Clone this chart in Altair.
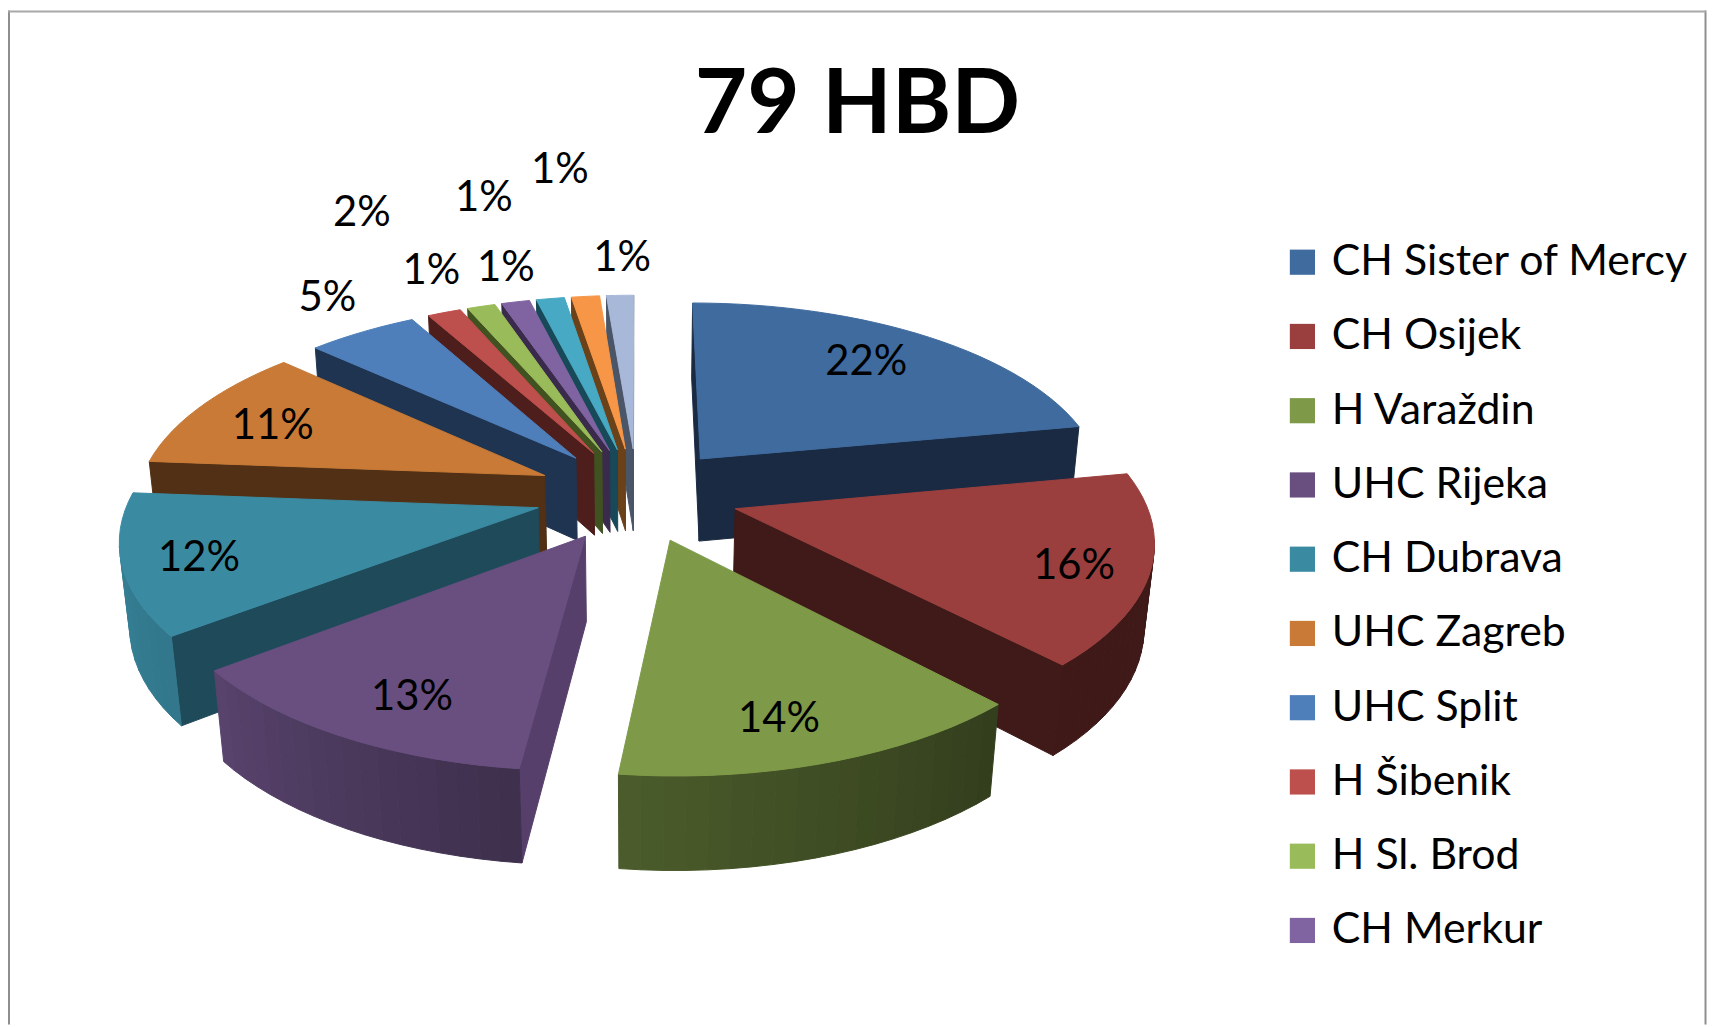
import math
import altair as alt

# ---- data ----
NAMES = ["CH Sister of Mercy", "CH Osijek", "H Varaždin", "UHC Rijeka", "CH Dubrava",
         "UHC Zagreb", "UHC Split", "H Šibenik", "H Sl. Brod", "CH Merkur",
         "Other 11", "Other 12", "Other 13"]
SHARES = [22, 16, 13.85, 12.65, 11.75, 10.65, 5.1, 1.55, 1.3, 1.3, 1.3, 1.3, 1.25]
LEGEND_COUNT = 10
TITLE = "79 HBD"

# ---- style ----
TOP_COLORS = ["#3f6b9e", "#9a3f3d", "#7e9a48", "#684f80", "#3a8ba2", "#c87a36", "#4e7fbb",
              "#bd4f4c", "#9abb59", "#8064a2", "#47a9c3", "#f79646", "#a8b8d8"]
RADIAL_COLORS = ["#1a2a42", "#3f1a18", "#33401c", "#573f6b", "#1f4a5a", "#513015", "#1f3450",
                 "#4e1e1c", "#3f5220", "#3a2b4c", "#174958", "#6b4119", "#4a5568"]
LABEL_T = [1.014, 1.076, 1.059, 1.046, 1.072, 1.021, 1.531, 2.105, 1.570, 2.109, 1.522, 2.330, 1.550]
LABEL_ANGLE = [38.1, 109.1, 163.7, 207.2, 253.0, 292.6, 324.3, 335.9, 337.2, 346.7, 345.2, 353.8, 358.35]

# ---- camera of the tilted, exploded pie ----
CX, CY, F, G, D, H, DROP, EXPLODE = 640.0, 494.0, 2870.0, 1319.0, 7.0, 600.0, 0.14, 0.25


def top(X, Y):
    return [CX + F * X / (D - Y), CY + G * Y / (D - Y)]


def bottom(X, Y):
    dd = D - Y + DROP
    return [CX + F * X / dd, CY + (G * Y + H) / dd]


def polar(t, deg):
    a = math.radians(deg)
    return t * math.sin(a), -t * math.cos(a)


def shade(hex_color, k):
    r, g, b = (int(hex_color[i:i + 2], 16) for i in (1, 3, 5))
    return "#%02x%02x%02x" % (round(r * k), round(g * k), round(b * k))


def wall_factor(deg):
    stops = [(0, .40), (137, .40), (187, .60), (234, .86), (277, .95), (360, .95)]
    for (a0, k0), (a1, k1) in zip(stops, stops[1:]):
        if a0 <= deg <= a1:
            return k0 + (k1 - k0) * (deg - a0) / (a1 - a0)
    return .4


def faces_viewer(p, q, m):
    ex, ey = q[0] - p[0], q[1] - p[1]
    return (ex * (m[1] - p[1]) - ey * (m[0] - p[0])) * ex < 0


features, colors = [], {}


def add(points, key, color):
    colors[key] = color
    ring = [[round(a, 2), round(b, 2)] for a, b in points]
    ring.append(ring[0])
    features.append({"type": "Feature", "properties": {"key": key},
                     "geometry": {"type": "Polygon", "coordinates": [ring]}})


slices, start = [], 0.0
for i, share in enumerate(SHARES):
    end = start + share * 3.6
    slices.append((i, start, end, (start + end) / 2))
    start = end

for i, a0, a1, mid in sorted(slices, key=lambda s: polar(EXPLODE + .5, s[3])[1]):
    ox, oy = polar(EXPLODE, mid)
    steps = max(3, int((a1 - a0) / 2.5))
    angles = [a0 + (a1 - a0) * k / steps for k in range(steps + 1)]
    rim = [(ox + polar(1, a)[0], oy + polar(1, a)[1]) for a in angles]
    apex_t = top(ox, oy)
    rim_t = [top(*w) for w in rim]
    n = len(rim_t) + 1
    centre = [(apex_t[0] + sum(p[0] for p in rim_t)) / n, (apex_t[1] + sum(p[1] for p in rim_t)) / n]
    for w, p in ((rim[0], rim_t[0]), (rim[-1], rim_t[-1])):
        if faces_viewer(apex_t, p, centre):
            add([apex_t, p, bottom(*w), bottom(ox, oy)], RADIAL_COLORS[i], RADIAL_COLORS[i])
    for k in range(steps):
        if faces_viewer(rim_t[k], rim_t[k + 1], centre):
            c = shade(TOP_COLORS[i], wall_factor((angles[k] + angles[k + 1]) / 2))
            add([rim_t[k], rim_t[k + 1], bottom(*rim[k + 1]), bottom(*rim[k])], c, c)
    add([apex_t] + rim_t, NAMES[i], TOP_COLORS[i])

labels = []
for i, s in enumerate(SHARES):
    px, py = top(*polar(LABEL_T[i], LABEL_ANGLE[i]))
    labels.append({"lon": px, "lat": py, "label": f"{round(s)}%"})

domain = list(colors)
rng = [colors[k] for k in domain]
PROJ = dict(type="identity", scale=1, translate=[-8, -8])

shapes = alt.Chart(alt.Data(values=features)).mark_geoshape(strokeWidth=1).encode(
    color=alt.Color("properties.key:N", scale=alt.Scale(domain=domain, range=rng),
                    legend=alt.Legend(values=NAMES[:LEGEND_COUNT], title=None, orient="none",
                                      legendX=1279, legendY=231.5, symbolType="square", symbolSize=640,
                                      symbolStrokeWidth=0, labelFont="Lato", labelFontSize=43,
                                      labelColor="black", labelOffset=8, rowPadding=30.6,
                                      padding=0, labelLimit=500)),
    stroke=alt.Stroke("properties.key:N", scale=alt.Scale(domain=domain, range=rng), legend=None),
).project(**PROJ)

texts = alt.Chart(alt.Data(values=labels)).mark_text(font="Lato", fontSize=42, color="black", dy=2).encode(
    longitude="lon:Q", latitude="lat:Q", text="label:N"
).project(**PROJ)

FRAME = "#8e8e8e"
left = alt.Chart(alt.Data(values=[{"a": 0}])).mark_rule(color=FRAME, strokeWidth=2).encode(
    x=alt.value(1), y=alt.value(0), y2=alt.value(1019))
right = alt.Chart(alt.Data(values=[{"a": 0}])).mark_rule(color=FRAME, strokeWidth=2).encode(
    x=alt.value(1705.5), y=alt.value(0), y2=alt.value(1019))
upper = alt.Chart(alt.Data(values=[{"a": 0}])).mark_rule(color="#a8a8a8", strokeWidth=2).encode(
    y=alt.value(1), x=alt.value(0), x2=alt.value(1706))

chart = alt.layer(left, right, upper, shapes, texts).properties(
    width=1709, height=1019, padding=0, autosize=alt.AutoSizeParams(type="none"),
    title=alt.TitleParams(text=TITLE, font="Lato", fontSize=91, fontWeight="bold", color="black",
                          anchor="middle", frame="group", offset=0, dx=-1, dy=215, baseline="alphabetic"),
).configure_view(stroke=None)

chart.save("out.html", embed_options={"renderer": "svg", "actions": False})
